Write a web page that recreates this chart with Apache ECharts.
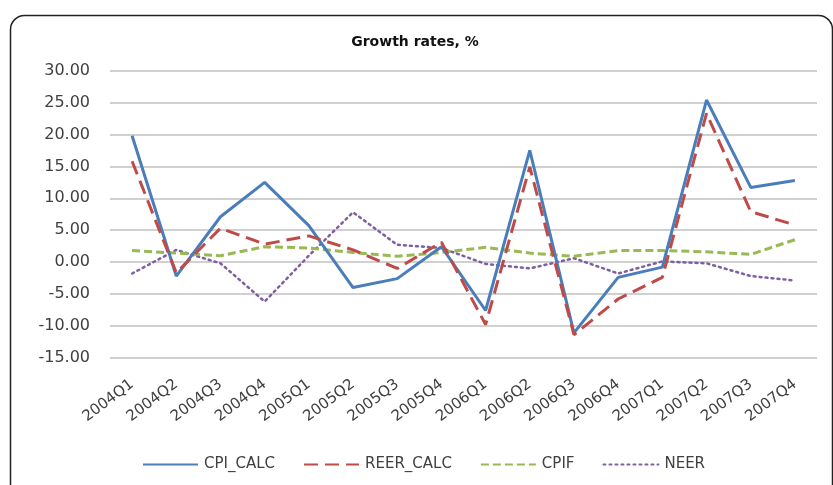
<!DOCTYPE html>
<html>
<head>
<meta charset="utf-8">
<script src="https://cdn.jsdelivr.net/npm/echarts@6/dist/echarts.min.js"></script>
<style>
  html, body { margin: 0; padding: 0; background: #fff; }
  #chart { width: 833px; height: 485px; }
</style>
</head>
<body>
<div id="chart"></div>
<script>
// quarters on the category axis
var quarters = ['2004Q1', '2004Q2', '2004Q3', '2004Q4', '2005Q1', '2005Q2', '2005Q3', '2005Q4',
                '2006Q1', '2006Q2', '2006Q3', '2006Q4', '2007Q1', '2007Q2', '2007Q3', '2007Q4'];

// growth rates, %
var cpiCalc  = [19.8, -2.2, 7.1, 12.5, 5.7, -4.0, -2.6, 2.4, -7.6, 17.5, -11.1, -2.4, -0.8, 25.4, 11.7, 12.8];
var reerCalc = [15.8, -1.7, 5.3, 2.8, 4.1, 1.9, -1.0, 3.1, -9.8, 14.9, -11.4, -5.8, -2.4, 23.3, 7.9, 5.8];
var cpif     = [1.8, 1.4, 1.0, 2.4, 2.2, 1.5, 0.9, 1.5, 2.3, 1.4, 0.9, 1.8, 1.8, 1.6, 1.2, 3.5];
var neer     = [-1.8, 1.9, -0.2, -6.2, 1.0, 7.8, 2.7, 2.2, -0.3, -1.0, 0.6, -1.8, 0.1, -0.2, -2.2, -2.9];

var yTicks = { min: -15, max: 30, step: 5 };

var chart = echarts.init(document.getElementById('chart'));
var font = '"DejaVu Sans", sans-serif';

chart.setOption({
    animation: false,
    textStyle: { fontFamily: font },
    graphic: [{
        type: 'rect',
        left: 8, top: 13,
        shape: { width: 822, height: 490, r: 14 },
        style: { fill: 'none', stroke: '#222', lineWidth: 1.5 },
        silent: true
    }],
    title: {
        text: 'Growth rates, %',
        left: 410, top: 30, textAlign: 'center',
        textStyle: { fontFamily: font, fontSize: 14, fontWeight: 'bold', color: '#111' }
    },
    legend: {
        top: 452, left: 137,
        itemWidth: 55, itemHeight: 3, itemGap: 28,
        itemStyle: { opacity: 0 },
        textStyle: { fontFamily: font, fontSize: 15, color: '#404040', padding: [0, 0, 0, 1] },
        data: ['CPI_CALC', 'REER_CALC', 'CPIF', 'NEER']
    },
    grid: { left: 110, right: 16, top: 70.7, bottom: 127.3 },
    xAxis: {
        type: 'category',
        data: quarters,
        boundaryGap: true,
        axisLine: { show: false },
        axisTick: { show: false },
        axisLabel: { rotate: 37, fontSize: 15, color: '#404040', margin: 25, interval: 0 }
    },
    yAxis: {
        type: 'value',
        min: yTicks.min, max: yTicks.max, interval: yTicks.step,
        axisLine: { show: false },
        axisTick: { show: false },
        axisLabel: {
            fontSize: 16, color: '#404040', margin: 20,
            formatter: function (v) { return v.toFixed(2); }
        },
        splitLine: { lineStyle: { color: '#c0c0c0', width: 1.5 } }
    },
    series: [
        {
            name: 'CPI_CALC', type: 'line', data: cpiCalc, symbol: 'none',
            lineStyle: { color: '#4a7ebb', width: 3 }, itemStyle: { color: '#4a7ebb' }, z: 4
        },
        {
            name: 'REER_CALC', type: 'line', data: reerCalc, symbol: 'none',
            lineStyle: { color: '#be4b48', width: 3, type: [14, 7] }, itemStyle: { color: '#be4b48' }, z: 5
        },
        {
            name: 'CPIF', type: 'line', data: cpif, symbol: 'none',
            lineStyle: { color: '#98b954', width: 3, type: [8, 4] }, itemStyle: { color: '#98b954' }, z: 3
        },
        {
            name: 'NEER', type: 'line', data: neer, symbol: 'none',
            lineStyle: { color: '#7d60a0', width: 2.5, type: [2, 4], cap: 'round' }, itemStyle: { color: '#7d60a0' }, z: 2
        }
    ]
});
</script>
</body>
</html>
